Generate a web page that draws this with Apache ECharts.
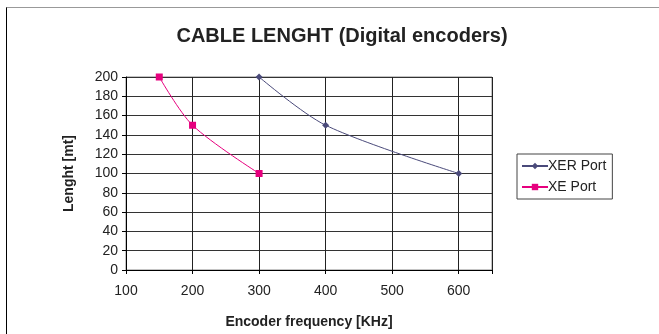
<!DOCTYPE html>
<html>
<head>
<meta charset="utf-8">
<script src="https://cdn.jsdelivr.net/npm/echarts@6/dist/echarts.min.js"></script>
<style>
  html, body { margin: 0; padding: 0; background: #fff; }
  #chart { width: 659px; height: 334px; }
  #frame { position: absolute; left: 6px; top: 7px; width: 700px; height: 400px; border: 1px solid #000; border-top-color: #999; pointer-events: none; }
</style>
</head>
<body>
<div id="chart"></div>
<div id="frame"></div>
<script>
// data
var xerFreq = [300, 400, 600];
var xerLen = [200, 150, 100];
var xeFreq = [150, 200, 300];
var xeLen = [200, 150, 100];
var seriesNames = ["XER Port", "XE Port"];

function pairs(xs, ys) {
  return xs.map(function (x, i) { return [x, ys[i]]; });
}

var myChart = echarts.init(document.getElementById("chart"));
var option = {
  animation: false,
  title: {
    text: "CABLE LENGHT (Digital encoders)",
    left: 337,
    textAlign: "center",
    top: 21,
    textStyle: { fontFamily: "Liberation Sans", fontSize: 20, fontWeight: "bold", color: "#222" },
  },
  grid: {
    left: 126,
    right: 167,
    top: 77,
    bottom: 62,
    show: true,
    borderColor: "#888",
    borderWidth: 1,
  },
  legend: {
    orient: "vertical",
    left: 517,
    top: 154,
    data: seriesNames,
    itemWidth: 26,
    itemHeight: 8,
    itemGap: 7,
    padding: [5, 6, 5, 4],
    borderColor: "#444",
    borderWidth: 1,
    textStyle: { fontFamily: "Liberation Sans", fontSize: 14, color: "#222", padding: [0, 0, 0, -5] },
  },
  xAxis: {
    type: "value",
    min: 100,
    max: 650,
    interval: 100,
    name: "Encoder frequency [KHz]",
    nameLocation: "center",
    nameGap: 45,
    nameTextStyle: { fontFamily: "Liberation Sans", fontSize: 14, fontWeight: "bold", color: "#222" },
    axisLine: { lineStyle: { color: "#000" } },
    axisTick: { show: true, length: 4, lineStyle: { color: "#000" } },
    axisLabel: {
      fontFamily: "Liberation Sans", fontSize: 14, color: "#222", margin: 14,
      formatter: function (v) { return v > 600 ? "" : v; },
    },
    splitLine: { lineStyle: { color: "#222", width: 1 } },
  },
  yAxis: {
    type: "value",
    min: 0,
    max: 200,
    interval: 20,
    name: "Lenght [mt]",
    nameLocation: "center",
    nameGap: 50,
    nameTextStyle: { fontFamily: "Liberation Sans", fontSize: 14, fontWeight: "bold", color: "#222" },
    axisLine: { show: true, lineStyle: { color: "#000" } },
    axisTick: { show: true, length: 4, lineStyle: { color: "#000" } },
    axisLabel: { fontFamily: "Liberation Sans", fontSize: 14, color: "#222", margin: 8 },
    splitLine: { lineStyle: { color: "#333", width: 1 } },
  },
  series: [
    {
      name: seriesNames[0],
      type: "line",
      data: pairs(xerFreq, xerLen),
      smooth: 0.3,
      color: "#4a4a7a",
      lineStyle: { width: 1 },
      symbol: "diamond",
      symbolSize: 7,
    },
    {
      name: seriesNames[1],
      type: "line",
      data: pairs(xeFreq, xeLen),
      smooth: 0.3,
      color: "#e6007e",
      lineStyle: { width: 1 },
      symbol: "rect",
      symbolSize: 7,
    },
  ],
};
myChart.setOption(option, true);
</script>
</body>
</html>
